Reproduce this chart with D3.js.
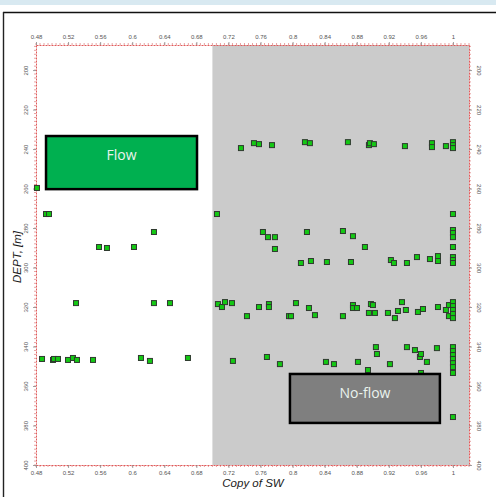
<!DOCTYPE html>
<html><head><meta charset="utf-8">
<script src="https://cdn.jsdelivr.net/npm/d3@7"></script>
<style>html,body{margin:0;padding:0;background:#fff;}svg{display:block;}</style>
</head><body>
<script>
// ---- data ----
const swTicks = [0.48,0.52,0.56,0.6,0.64,0.68,0.72,0.76,0.8,0.84,0.88,0.92,0.96,1];
const swTickLabels = ["0.48","0.52","0.56","0.6","0.64","0.68","0.72","0.76","0.8","0.84","0.88","0.92","0.96","1"];
const depthTicks = [200,220,240,260,280,300,320,340,360,380,400];
const swDomain = [0.48, 1.02];
const depthDomain = [187.3, 400];
const cutoffSW = 0.70;
// samples: SW values and depths
const sw = [
 0.7356,0.7518,0.7581,0.7743,0.8154,0.8216,0.8690,0.8952,0.8964,0.9014,0.9401,0.9738,0.9738,0.9912,1,1,1,
 0.4812,0.4925,0.4962,0.7057,1,
 0.6271,0.5586,0.5685,0.6022,0.7630,0.7693,0.7780,0.8179,0.8628,0.8753,1,1,1,0.7780,0.8902,1,
 0.8104,0.8229,0.8428,0.8728,0.9226,0.9264,0.9426,0.9551,0.9713,0.9813,0.9813,1,1,1,
 0.5299,0.6271,0.6471,
 0.7069,0.7119,0.7157,0.7244,0.7431,0.7581,0.7705,0.7705,0.8042,0.8204,0.7955,0.7980,0.8279,0.8628,0.8753,0.8753,0.8803,0.8977,0.9002,0.8952,0.9027,0.9189,0.9276,0.9314,0.9364,0.9413,0.9563,0.9626,0.9813,0.9912,0.9950,0.9950,1,1,1,1,1,
 0.4875,0.5012,0.5024,0.5074,0.5199,0.5261,0.5311,0.5511,0.6109,0.6221,0.6695,
 0.7256,0.7680,0.7842,0.8416,0.8516,0.8815,0.8940,0.9039,0.9052,0.9214,0.9426,0.9526,0.9588,0.9601,0.9675,0.9800,0.9601,1,1,1,1,1,1,1,
 1
];
const depth = [
 239.5,237.0,237.5,238.0,236.5,237.0,236.5,238.0,237.0,237.5,238.5,237.0,239.0,238.5,236.5,238.0,239.5,
 259.7,272.9,272.9,272.9,272.9,
 282.0,289.6,290.1,289.6,282.0,284.6,284.6,282.0,281.5,284.1,281.0,282.5,284.6,290.6,289.6,289.6,
 297.7,296.7,297.2,297.2,296.2,297.7,297.7,294.7,295.7,294.2,296.7,294.7,296.2,297.7,
 318.0,318.0,318.0,
 318.5,320.0,317.5,318.0,324.6,320.0,318.5,320.0,318.0,320.5,324.6,324.6,324.1,324.6,319.0,320.5,320.5,318.5,319.0,323.0,323.0,323.0,325.6,322.0,317.5,321.5,322.5,321.0,320.0,321.5,319.0,324.6,317.5,319.5,321.5,323.5,325.6,
 346.3,346.8,346.3,346.3,346.8,345.8,346.8,346.8,345.8,347.3,345.8,
 347.3,345.3,348.9,347.8,348.9,347.8,351.9,340.3,343.8,348.9,340.3,341.8,345.3,343.8,347.8,340.8,353.4,340.3,342.3,344.3,346.3,348.4,350.4,353.4,
 375.7
];
// annotation boxes in data units
const boxLabels = ["Flow","No-flow"];
const boxSW0 = [0.4925, 0.7967];
const boxSW1 = [0.6808, 0.9837];
const boxD0 = [233.4, 353.9];
const boxD1 = [260.3, 378.7];
const boxFill = ["#00b050","#7f7f7f"];

// ---- layout ----
const W = 496, H = 497;
const m = {left:36, top:45, right:469, bottom:465};
const svg = d3.select("body").append("svg").attr("width",W).attr("height",H);

// frame
svg.append("rect").attr("x",0).attr("y",0).attr("width",W).attr("height",5).attr("fill","#d8e9f1");
svg.append("line").attr("x1",3).attr("x2",W).attr("y1",12.5).attr("y2",12.5).attr("stroke","#111").attr("stroke-width",1.6);
svg.append("line").attr("x1",3.5).attr("x2",3.5).attr("y1",12).attr("y2",H).attr("stroke","#222").attr("stroke-width",1.4);

const x = d3.scaleLinear().domain(swDomain).range([m.left, m.right]);
const y = d3.scaleLinear().domain(depthDomain).range([m.top, m.bottom]);

// gray region
svg.append("rect").attr("x",x(cutoffSW)).attr("y",m.top)
  .attr("width",x(swDomain[1])-x(cutoffSW)).attr("height",m.bottom-m.top).attr("fill","#cbcbcb");

// axes
function styleAxis(g){
  g.select(".domain").attr("stroke","#e05a5a").attr("stroke-width",1).attr("stroke-dasharray","2,1");
  g.selectAll(".tick line").attr("stroke","#888").attr("stroke-width",0.8);
  g.selectAll("text").attr("font-family","Liberation Sans, Arial, sans-serif").attr("font-size","6px").attr("fill","#555");
}
const minorX = d3.range(0.48, 1.0201, 0.005);
const minorY = d3.range(188, 400.1, 2);
function minor(g, scale, vals, orient){
  vals.forEach(v=>{
    const p = scale(v);
    if (orient==="top") g.append("line").attr("x1",p).attr("x2",p).attr("y1",m.top).attr("y2",m.top-2);
    if (orient==="bottom") g.append("line").attr("x1",p).attr("x2",p).attr("y1",m.bottom).attr("y2",m.bottom+2);
    if (orient==="left") g.append("line").attr("y1",p).attr("y2",p).attr("x1",m.left).attr("x2",m.left-2);
    if (orient==="right") g.append("line").attr("y1",p).attr("y2",p).attr("x1",m.right).attr("x2",m.right+2);
  });
  g.selectAll("line").attr("stroke","#d77").attr("stroke-width",0.7);
}
const mg = svg.append("g");
["top","bottom"].forEach(o=>minor(mg.append("g"), x, minorX, o));
["left","right"].forEach(o=>minor(mg.append("g"), y, minorY, o));

const fmtX = (d,i)=>swTickLabels[i];
const gTop = svg.append("g").attr("transform",`translate(0,${m.top})`)
  .call(d3.axisTop(x).tickValues(swTicks).tickFormat(fmtX).tickSize(3).tickSizeOuter(0).tickPadding(3));
styleAxis(gTop);
const gBot = svg.append("g").attr("transform",`translate(0,${m.bottom})`)
  .call(d3.axisBottom(x).tickValues(swTicks).tickFormat(fmtX).tickSize(3).tickSizeOuter(0).tickPadding(3));
styleAxis(gBot);
const gL = svg.append("g").attr("transform",`translate(${m.left},0)`)
  .call(d3.axisLeft(y).tickValues(depthTicks).tickFormat(d3.format("d")).tickSize(3).tickSizeOuter(0).tickPadding(0));
styleAxis(gL);
gL.selectAll("text").attr("text-anchor","middle").attr("dy",0).attr("x",0)
  .attr("transform","translate(-8,0) rotate(-90)");
const gR = svg.append("g").attr("transform",`translate(${m.right},0)`)
  .call(d3.axisRight(y).tickValues(depthTicks).tickFormat(d3.format("d")).tickSize(3).tickSizeOuter(0).tickPadding(0));
styleAxis(gR);
gR.selectAll("text").attr("text-anchor","middle").attr("dy",0).attr("x",0)
  .attr("transform","translate(8,0) rotate(90)");

// axis titles
svg.append("text").attr("transform",`translate(21,${(m.top+m.bottom)/2+2}) rotate(-90)`)
  .attr("text-anchor","middle").attr("font-family","Liberation Sans, Arial, sans-serif")
  .attr("font-size","11.5px").attr("font-style","italic").attr("fill","#1a1a1a").text("DEPT, [m]");
svg.append("text").attr("x",253).attr("y",487).attr("text-anchor","middle")
  .attr("font-family","Liberation Sans, Arial, sans-serif").attr("font-size","11.5px")
  .attr("font-style","italic").attr("fill","#1a1a1a").text("Copy of SW");

// points
const pts = sw.map((v,i)=>({sw:v, d:depth[i]}));
svg.append("g").selectAll("rect").data(pts).join("rect")
  .attr("x",d=>x(d.sw)-2.5).attr("y",d=>y(d.d)-2.5).attr("width",5).attr("height",5)
  .attr("fill","#14c814").attr("stroke","#2f3a2f").attr("stroke-width",1);

// boxes
boxLabels.forEach((lab,i)=>{
  const x0=x(boxSW0[i]), x1=x(boxSW1[i]), y0=y(boxD0[i]), y1=y(boxD1[i]);
  svg.append("rect").attr("x",x0).attr("y",y0).attr("width",x1-x0).attr("height",y1-y0)
    .attr("fill",boxFill[i]).attr("stroke","#000").attr("stroke-width",2.5);
  svg.append("text").attr("x",(x0+x1)/2).attr("y",y0+24).attr("text-anchor","middle")
    .attr("font-family","Open Sans, Liberation Sans, sans-serif").attr("font-size","14px")
    .attr("fill","#eaf3ee").text(lab);
});
</script>
</body></html>
